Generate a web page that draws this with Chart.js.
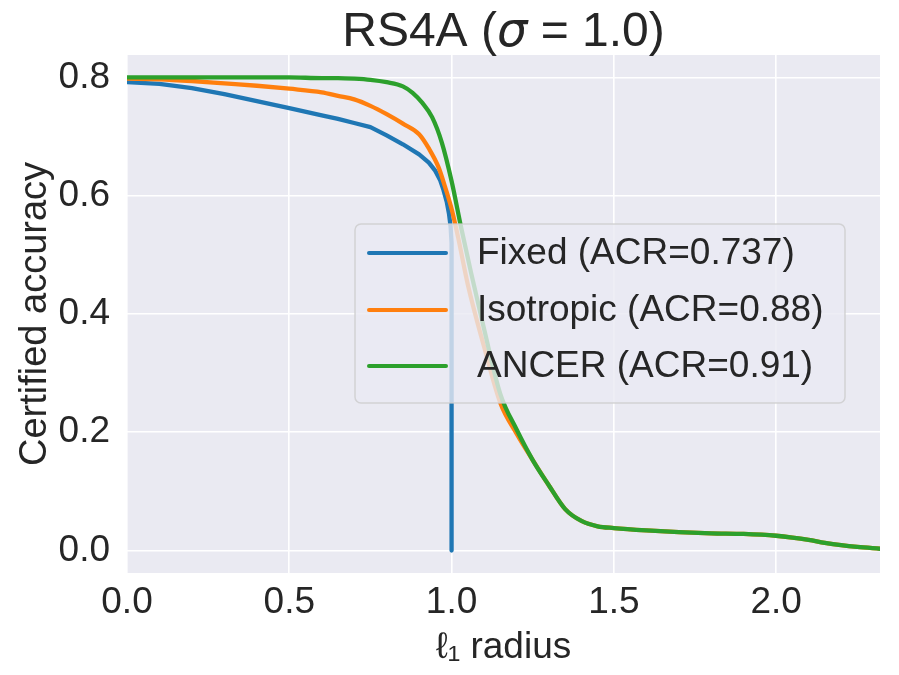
<!DOCTYPE html>
<html>
<head>
<meta charset="utf-8">
<script src="https://cdn.jsdelivr.net/npm/chart.js@4.4.1/dist/chart.umd.min.js"></script>
<style>
  body { margin: 0; background: #ffffff; }
  canvas { display: block; }
</style>
</head>
<body>
<canvas id="myChart" width="899" height="675"></canvas>
<script>
// series
const labels = ["Fixed (ACR=0.737)", "Isotropic (ACR=0.88)", "ANCER (ACR=0.91)"];
const colors = ["#1f77b4", "#ff7f0e", "#2ca02c"];

const fixedX = [0, 0.1, 0.2, 0.3, 0.4, 0.5, 0.6, 0.65, 0.7, 0.75, 0.8, 0.85, 0.9, 0.93, 0.95, 0.965, 0.975, 0.985, 0.992, 0.997, 1.0, 1.0];
const fixedY = [0.792, 0.789, 0.782, 0.772, 0.760, 0.748, 0.736, 0.730, 0.723, 0.716, 0.702, 0.687, 0.670, 0.656, 0.642, 0.626, 0.610, 0.590, 0.570, 0.548, 0.520, 0.0];

const isoX = [0, 0.1, 0.2, 0.3, 0.4, 0.5, 0.6, 0.65, 0.7, 0.75, 0.8, 0.85, 0.9, 0.93, 0.96, 0.98, 1.0, 1.02, 1.05, 1.1, 1.15, 1.2,
  1.25, 1.3, 1.35, 1.4, 1.45, 1.5, 1.6, 1.7, 1.8, 1.9, 2.0, 2.05, 2.1, 2.15, 2.2, 2.25, 2.32];
const isoY = [0.798, 0.797, 0.794, 0.790, 0.786, 0.781, 0.775, 0.769, 0.763, 0.752, 0.738, 0.722, 0.704, 0.680, 0.648, 0.615, 0.578, 0.530, 0.450, 0.345, 0.250, 0.198,
  0.153, 0.110, 0.070, 0.050, 0.041, 0.038, 0.034, 0.031, 0.029, 0.028, 0.025, 0.022, 0.018, 0.013, 0.009, 0.006, 0.003];

const ancerX = [0, 0.2, 0.4, 0.5, 0.6, 0.65, 0.7, 0.75, 0.8, 0.85, 0.88, 0.91, 0.94, 0.97, 1.0, 1.03, 1.06, 1.1, 1.15, 1.2,
  1.25, 1.3, 1.35, 1.4, 1.45, 1.5, 1.6, 1.7, 1.8, 1.9, 2.0, 2.05, 2.1, 2.15, 2.2, 2.25, 2.32];
const ancerY = [0.800, 0.800, 0.800, 0.800, 0.799, 0.799, 0.798, 0.796, 0.792, 0.785, 0.774, 0.757, 0.733, 0.690, 0.625, 0.545, 0.470, 0.375, 0.265, 0.205,
  0.153, 0.110, 0.070, 0.050, 0.041, 0.038, 0.034, 0.031, 0.029, 0.028, 0.025, 0.022, 0.018, 0.013, 0.009, 0.006, 0.003];

const xTicks = [0, 0.5, 1.0, 1.5, 2.0];
const yTicks = [0, 0.2, 0.4, 0.6, 0.8];

const fontFam = '"Liberation Sans", Arial, "DejaVu Sans", sans-serif';
const textColor = "#262626";

function toPoints(xs, ys) {
    let pts = new Array();
    for (let i = 0; i < xs.length; i++) {
        pts.push({ x: xs[i], y: ys[i] });
    }
    return pts;
}

// grey seaborn-like plot face
const bgPlugin = {
    id: 'bg',
    beforeDraw(chart) {
        const a = chart.chartArea;
        const c = chart.ctx;
        c.save();
        c.fillStyle = "#EAEAF2";
        c.fillRect(a.left, a.top, a.right - a.left, a.bottom - a.top);
        c.restore();
    }
};

// title centred over the plot area, sigma in italic
const titlePlugin = {
    id: 'axTitle',
    afterDraw(chart) {
        const a = chart.chartArea;
        const c = chart.ctx;
        const parts = [
            ["RS4A (", "48px " + fontFam],
            ["σ", "italic 48px 'DejaVu Sans', sans-serif"],
            [" = 1.0)", "48px " + fontFam]
        ];
        c.save();
        c.fillStyle = textColor;
        c.textBaseline = "alphabetic";
        c.textAlign = "left";
        let total = 0;
        for (const p of parts) { c.font = p[1]; total += c.measureText(p[0]).width; }
        let x = (a.left + a.right) / 2 - total / 2;
        for (const p of parts) {
            c.font = p[1];
            c.fillText(p[0], x, 46);
            x += c.measureText(p[0]).width;
        }
        c.restore();
    }
};

// legend box inside the plot, semi transparent like matplotlib
const legendBox = {
    id: 'legendBox',
    afterDatasetsDraw(chart) {
        const c = chart.ctx;
        const bx = 355, by = 224, bw = 490, bh = 179;
        c.save();
        c.beginPath();
        c.roundRect(bx, by, bw, bh, 6);
        c.fillStyle = "rgba(234,234,242,0.8)";
        c.fill();
        c.lineWidth = 1.5;
        c.strokeStyle = "rgba(204,204,204,0.8)";
        c.stroke();
        c.font = "37px " + fontFam;
        c.textBaseline = "middle";
        c.textAlign = "left";
        const rows = [253, 310, 366];
        for (let i = 0; i < labels.length; i++) {
            c.beginPath();
            c.moveTo(369, rows[i]);
            c.lineTo(446, rows[i]);
            c.lineWidth = 4;
            c.lineCap = "round";
            c.strokeStyle = colors[i];
            c.stroke();
            c.fillStyle = textColor;
            c.fillText(chart.data.datasets[i].label, 477, rows[i] + 1);
        }
        c.restore();
    }
};

const ctx = document.getElementById('myChart');
const myChart = new Chart(ctx, {
    type: 'line',
    data: {
        datasets: [
            { label: labels[0], data: toPoints(fixedX, fixedY), borderColor: colors[0], order: 2,
              cubicInterpolationMode: 'default', tension: 0 },
            { label: labels[1], data: toPoints(isoX, isoY), borderColor: colors[1], order: 1 },
            { label: labels[2], data: toPoints(ancerX, ancerY), borderColor: colors[2], order: 0 }
        ]
    },
    options: {
        responsive: false,
        animation: false,
        devicePixelRatio: 1,
        layout: { padding: { top: 55, right: 19, bottom: 0, left: 0 } },
        elements: {
            line: { borderWidth: 4.3, cubicInterpolationMode: 'monotone', fill: false, borderCapStyle: 'round', borderJoinStyle: 'round' },
            point: { radius: 0, hoverRadius: 0 }
        },
        plugins: {
            legend: { display: false },
            tooltip: { enabled: false },
            title: { display: false }
        },
        scales: {
            x: {
                type: 'linear',
                min: 0,
                max: 2.32,
                afterFit: function (scale) { scale.height = 102; },
                afterBuildTicks: function (scale) { scale.ticks = xTicks.map(v => ({ value: v })); },
                ticks: {
                    includeBounds: false,
                    padding: 8,
                    color: textColor,
                    font: { family: fontFam, size: 37 },
                    maxRotation: 0,
                    callback: v => v.toFixed(1)
                },
                grid: { color: '#ffffff', lineWidth: 1.6, drawTicks: false },
                border: { display: false },
                title: {
                    display: true,
                    text: 'ℓ₁ radius',
                    color: textColor,
                    font: { family: fontFam, size: 37 },
                    padding: { top: 0, bottom: 5 }
                }
            },
            y: {
                type: 'linear',
                min: -0.038,
                max: 0.838,
                afterFit: function (scale) { scale.width = 127; },
                afterBuildTicks: function (scale) { scale.ticks = yTicks.map(v => ({ value: v })); },
                ticks: {
                    includeBounds: false,
                    padding: 17,
                    color: textColor,
                    font: { family: fontFam, size: 37 },
                    callback: v => Math.abs(v).toFixed(1)
                },
                grid: { color: '#ffffff', lineWidth: 1.6, drawTicks: false },
                border: { display: false },
                title: {
                    display: true,
                    text: 'Certified accuracy',
                    color: textColor,
                    font: { family: fontFam, size: 38 },
                    padding: { top: 13, bottom: 0 }
                }
            }
        }
    },
    plugins: [bgPlugin, legendBox, titlePlugin]
});
</script>
</body>
</html>
